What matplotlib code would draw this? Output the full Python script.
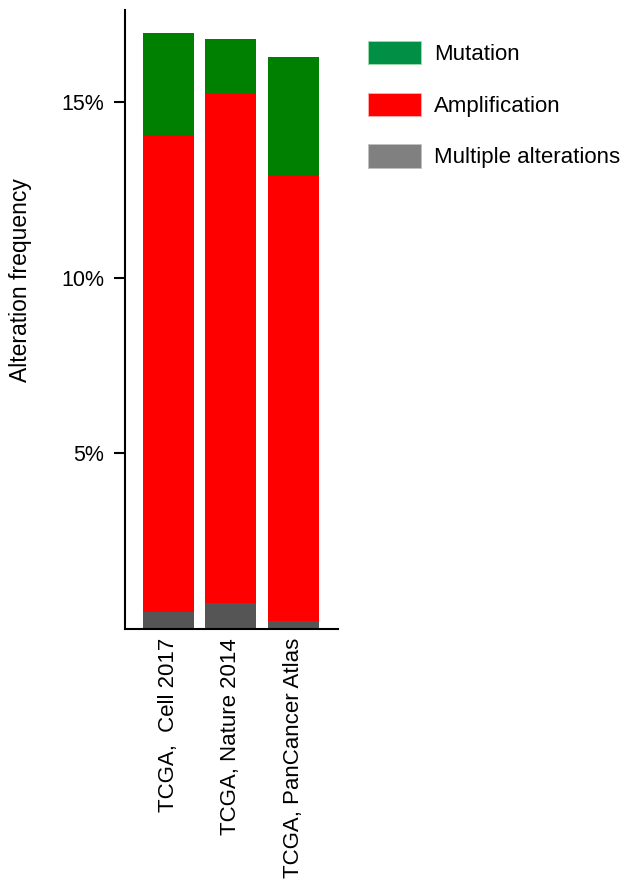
import matplotlib
matplotlib.use("Agg")
import matplotlib.pyplot as plt
from matplotlib.patches import Patch

plt.rcParams['font.family'] = ['Liberation Sans', 'DejaVu Sans']

studies = ["TCGA,  Cell 2017", "TCGA, Nature 2014", "TCGA, PanCancer Atlas"]
multiple = [0.46, 0.74, 0.22]
amplification = [13.61, 14.51, 12.67]
mutation = [2.90, 1.54, 3.40]
yticks = [5, 10, 15]
ytick_labels = ["5%", "10%", "15%"]

fig = plt.figure(figsize=(6.23, 8.88), dpi=100)
ax = fig.add_axes([0.2006, 0.2922, 0.3419, 0.6965])

x = list(range(len(studies)))
w = 0.816
ax.bar(x, multiple, width=w, color="#555555", edgecolor="none")
ax.bar(x, amplification, width=w, bottom=multiple, color="#ff0000", edgecolor="none")
bottom2 = [a + b for a, b in zip(multiple, amplification)]
ax.bar(x, mutation, width=w, bottom=bottom2, color="#008000", edgecolor="none")

ax.set_xlim(-0.696, 2.712)
ax.set_ylim(0, 17.62)
ax.set_yticks(yticks)
ax.set_yticklabels(ytick_labels, fontsize=15.5)
ax.set_xticks(x)
ax.set_xticklabels(studies, rotation=90, fontsize=16)
ax.tick_params(axis='x', length=0, pad=7)
ax.tick_params(axis='y', length=8, width=1.5, pad=7)
for s in ["top", "right"]:
    ax.spines[s].set_visible(False)
for s in ["left", "bottom"]:
    ax.spines[s].set_linewidth(1.5)
ax.set_ylabel("Alteration frequency", fontsize=16.5)
ax.yaxis.set_label_coords(-0.437, 0.563)

handles = [Patch(facecolor="#008f45", edgecolor="#9fdcae", lw=0.6, label="Mutation"),
           Patch(facecolor="#ff0000", edgecolor="#ffb0b0", lw=0.6, label="Amplification"),
           Patch(facecolor="#808080", edgecolor="#c0c0c0", lw=0.6, label="Multiple alterations")]
fig.legend(handles=handles, loc="upper left", bbox_to_anchor=(0.5907, 0.9535),
           frameon=False, fontsize=16, handlelength=2.39, handleheight=1.22,
           labelspacing=1.24, handletextpad=0.59, borderaxespad=0, borderpad=0)

fig.savefig("out.png", dpi=100)
